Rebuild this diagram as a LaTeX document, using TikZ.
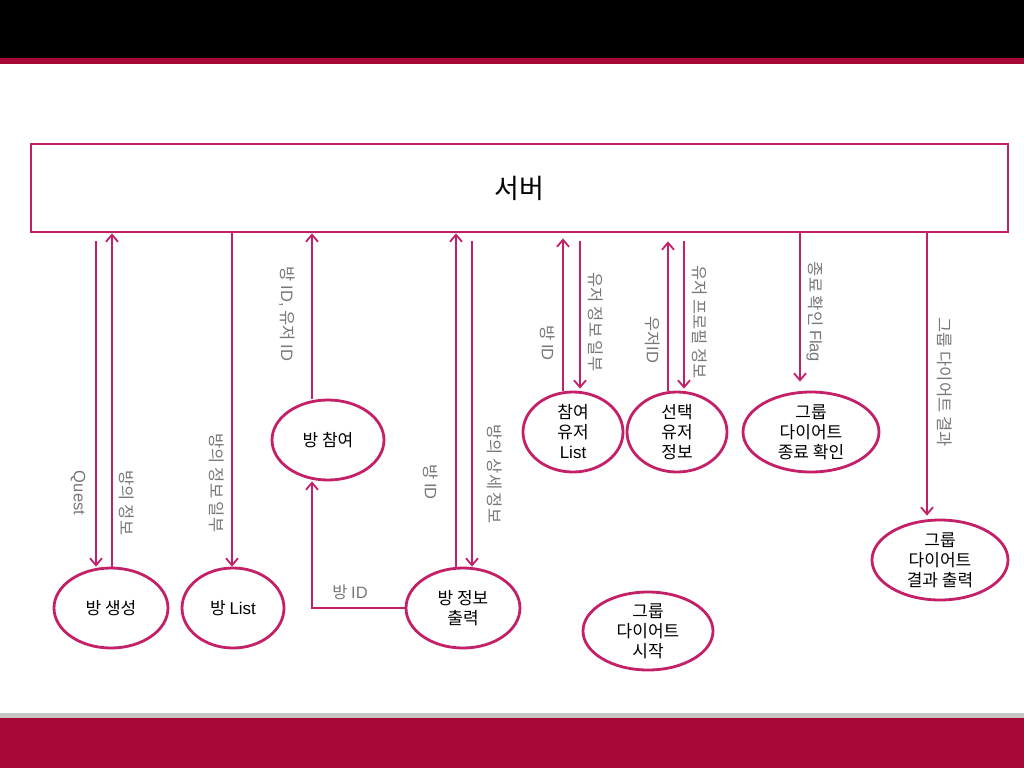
\documentclass[tikz,border=0pt]{standalone}
\usepackage{fontspec}
\setmainfont{Noto Sans CJK KR}
\newfontfamily\lat{Liberation Sans}
\usetikzlibrary{shapes.geometric,arrows.meta}
\definecolor{mag}{RGB}{196,32,104}
\definecolor{crim}{RGB}{166,8,56}
\definecolor{lgray}{RGB}{120,120,120}
\begin{document}
\begin{tikzpicture}[x=1pt,y=-1pt,
  proc/.style={ellipse,draw=mag,line width=2.8pt,inner sep=0pt,minimum height=80pt,align=center,font=\fontsize{17}{20}\selectfont},
  arr/.style={draw=mag,line width=1.8pt,-{Straight Barb[length=7pt,width=12pt]}},
  lab/.style={text=lgray,font=\fontsize{16.5}{18}\selectfont,inner sep=0pt},
  vlab/.style={lab,rotate=-90}]
% background
\fill[white] (0,0) rectangle (1024,768);
\fill[black] (0,0) rectangle (1024,58);
\fill[crim] (0,58) rectangle (1024,64);
\fill[gray!45] (0,713) rectangle (1024,718);
\fill[crim] (0,718) rectangle (1024,768);
\useasboundingbox (0,0) rectangle (1024,768);
% server
\node[draw=mag,line width=2.8pt,minimum width=977pt,minimum height=88pt,inner sep=0pt,font=\fontsize{27}{30}\selectfont] (server) at (519.5,188) {서버};
% processes
\node[proc,minimum width=114pt] (gen) at (111,608) {방 생성};
\node[proc,minimum width=102pt] (list) at (233,608) {방 {\lat List}};
\node[proc,minimum width=112pt] (join) at (328,440) {방 참여};
\node[proc,minimum width=114pt] (info) at (463,608) {방 정보\\출력};
\node[proc,minimum width=100pt] (ulist) at (573,432) {참여\\유저\\{\lat List}};
\node[proc,minimum width=100pt] (usel) at (677,432) {선택\\유저\\정보};
\node[proc,minimum width=136pt] (gend) at (811,432) {그룹\\다이어트\\종료 확인};
\node[proc,minimum width=136pt] (gres) at (940,560) {그룹\\다이어트\\결과 출력};
\node[proc,minimum width=130pt,minimum height=78pt] (gstart) at (648,631) {그룹\\다이어트\\시작};
% x positions
\coordinate (x96) at (96,0);
\coordinate (x112) at (112,0);
\coordinate (x232) at (232,0);
\coordinate (x312) at (312,0);
\coordinate (x456) at (456,0);
\coordinate (x472) at (472,0);
\coordinate (x563) at (563,0);
\coordinate (x580) at (580,0);
\coordinate (x668) at (668,0);
\coordinate (x684) at (684,0);
\coordinate (x800) at (800,0);
\coordinate (x927) at (927,0);
% connectors
\draw[arr,shorten <=8pt] (server.south -| x96) -- (gen.north -| x96);
\draw[arr] (gen.north -| x112) -- (server.south -| x112);
\draw[arr] (server.south -| x232) -- (list.north -| x232);
\draw[arr] (join.north -| x312) -- (server.south -| x312);
\draw[arr] (info.north -| x456) -- (server.south -| x456);
\draw[arr,shorten <=8pt] (server.south -| x472) -- (info.north -| x472);
\draw[arr] (info.west) -| (join.south -| x312);
\draw[arr,shorten >=5pt] (ulist.north -| x563) -- (server.south -| x563);
\draw[arr,shorten <=8pt,shorten >=2pt] (server.south -| x580) -- (ulist.north -| x580);
\draw[arr,shorten >=8pt] (usel.north -| x668) -- (server.south -| x668);
\draw[arr,shorten <=8pt,shorten >=2pt] (server.south -| x684) -- (usel.north -| x684);
\draw[arr,shorten >=9pt] (server.south -| x800) -- (gend.north -| x800);
\draw[arr,shorten >=3pt] (server.south -| x927) -- (gres.north -| x927);
% labels
\node[vlab] (l1) at (78,493) {\lat Quest};
\node[vlab] (l2) at (127,503) {방의 정보};
\node[vlab] (l3) at (217,483) {방의 정보 일부};
\node[vlab] (l4) at (287,314) {방 {\lat ID,} 유저 {\lat ID}};
\node[vlab] (l5) at (431,482) {방 {\lat ID}};
\node[vlab] (l6) at (495,474) {방의 상세 정보};
\node[vlab] (l7) at (548,343) {방 {\lat ID}};
\node[vlab] (l8) at (596,322) {유저 정보 일부};
\node[vlab] (l9) at (653,340) {우저{\lat ID}};
\node[vlab] (l10) at (700,322) {유저 프로필 정보};
\node[vlab] (l11) at (815,312) {종료 확인 {\lat Flag}};
\node[vlab] (l12) at (945,382) {그룹 다이어트 결과};
\node[lab] (l13) at (350,592) {방 {\lat ID}};
\end{tikzpicture}
\end{document}
